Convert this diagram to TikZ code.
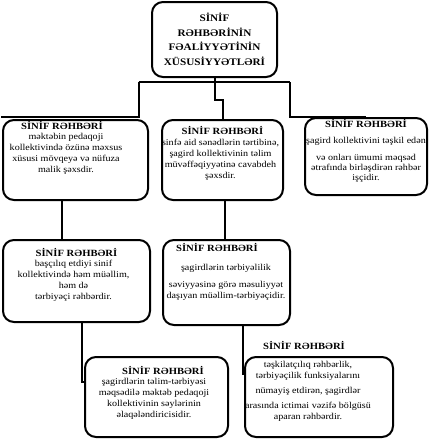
\documentclass[tikz,border=0pt]{standalone}
\usepackage{fontspec}
\setmainfont{Liberation Serif}
\newfontfamily\widefont{Liberation Serif}[FakeStretch=1.12]
\usetikzlibrary{positioning}
\tikzset{
    every node/.style={inner sep=0pt},
    panel/.style={draw,line width=2pt,rounded corners=11pt},
    boxhead/.style={font=\widefont\fontsize{9.5}{11}\selectfont\bfseries},
    boxbody/.style={font=\widefont\fontsize{9}{11}\selectfont,align=center},
    branch/.style={draw,line width=2pt}
}

\begin{document}
\begin{tikzpicture}[x=1pt,y=-1pt]
    \useasboundingbox (0,0) rectangle (429,439);
    % frames
    \node[panel,minimum width=125pt,minimum height=75pt] (top) at (214.5,39.5) {};
    \node[panel,minimum width=145pt,minimum height=80pt] (b1) at (75.5,160) {};
    \node[panel,minimum width=121pt,minimum height=80pt] (b2) at (222.5,160) {};
    \node[panel,minimum width=122pt,minimum height=77pt] (b3) at (366,156.5) {};
    \node[panel,minimum width=147pt,minimum height=82pt] (b4) at (76.5,281) {};
    \node[panel,minimum width=127pt,minimum height=85pt] (b5) at (226.5,282.5) {};
    \node[panel,minimum width=143pt,minimum height=80pt] (b6) at (156.5,397) {};
    \node[panel,minimum width=148pt,minimum height=80pt] (b7) at (319,397) {};

    % texts
    \node[font=\widefont\fontsize{10}{14.5}\selectfont\bfseries,align=center] (ttl) at (top.center)
        {SİNİF\\RƏHBƏRİNİN\\FƏALİYYƏTİNİN\\XÜSUSİYYƏTLƏRİ};

    \node[boxhead] (h1) at (62,125) {SİNİF RƏHBƏRİ};
    \node[boxbody,below=4pt of h1,xshift=4pt] (p1) {məktəbin pedaqoji\\kollektivində özünə məxsus\\xüsusi mövqeyə və nüfuza\\malik şəxsdir.};

    \node[boxhead] (h2) at (222.5,130) {SİNİF RƏHBƏRİ};
    \node[boxbody,below=5pt of h2,xshift=-2pt] (p2) {sinfə aid sənədlərin tərtibinə,\\şagird kollektivinin təlim\\müvəffəqiyyətinə cavabdeh\\şəxsdir.};

    \node[boxhead] (h3) at (366,123) {SİNİF RƏHBƏRİ};
    \node[boxbody,below=10pt of h3] (p3) {şagird kollektivini təşkil edən\\[6pt]və onları ümumi məqsəd\\[-1pt]ətrafında birləşdirən rəhbər\\[-1pt]işçidir.};

    \node[boxhead] (h4) at (76.5,252) {SİNİF RƏHBƏRİ};
    \node[boxbody,below=4pt of h4,xshift=-3pt] (p4) {başçılıq etdiyi sinif\\kollektivində həm müəllim,\\həm də\\tərbiyəçi rəhbərdir.};

    \node[boxhead] (h5) at (217,247) {SİNİF RƏHBƏRİ};
    \node[boxbody,below=13pt of h5,xshift=9pt] (p5) {şagirdlərin tərbiyəlilik\\[6pt]səviyyəsinə görə məsuliyyət\\daşıyan müəllim-tərbiyəçidir.};

    \node[boxhead] (h6) at (163,370) {SİNİF RƏHBƏRİ};
    \node[boxbody,below=4pt of h6,xshift=-9pt] (p6) {şagirdlərin təlim-tərbiyəsi\\məqsədilə məktəb pedaqoji\\kollektivinin səylərinin\\əlaqələndiricisidir.};

    \node[boxhead] (h7) at (304,345) {SİNİF RƏHBƏRİ};
    \node[boxbody,below=12pt of h7,xshift=4pt] (p7) {təşkilatçılıq rəhbərlik,\\tərbiyəçilik funksiyalarını\\[4pt]nümayiş etdirən, şagirdlər\\[4pt]arasında ictimai vəzifə bölgüsü\\aparan rəhbərdir.};

    % connectors
    \coordinate (busw) at (138.5,82);
    \coordinate (buse) at (290,82);
    \coordinate (midjog) at (222.5,100);
    \coordinate (leftend) at (1,117);
    \coordinate (c1) at (62,0);
    \coordinate (c2) at (225,0);
    \coordinate (c3) at (82,382);
    \coordinate (c4) at (243,374);
    \draw[branch] (busw) -- (buse);
    \draw[branch] (top.south) |- (midjog) -- (midjog |- b2.north);
    \draw[branch] (busw) |- (leftend);
    \draw[branch] (buse) |- (b3.north);
    \draw[branch] (b1.south -| c1) -- (b4.north -| c1);
    \draw[branch] (b2.south -| c2) -- (b5.north -| c2);
    \draw[branch] (b4.south -| c3) |- (b6.west |- c3);
    \draw[branch] (b5.south -| c4) |- (b7.west |- c4);
\end{tikzpicture}
\end{document}
